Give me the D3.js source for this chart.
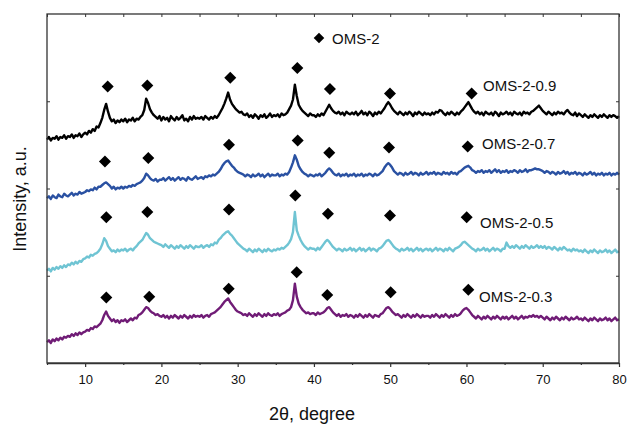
<!DOCTYPE html>
<html>
<head>
<meta charset="utf-8">
<script src="https://cdn.jsdelivr.net/npm/d3@7"></script>
<style>
  body { margin: 0; background: #fff; }
  text { font-family: "Liberation Sans", Arial, sans-serif; fill: #111; }
</style>
</head>
<body>
<div id="chart"></div>
<script>
// 2theta grid of the scans, 5..80 deg, 0.25 deg step
const twoTheta = d3.range(0, 301).map(i => 5 + i * 0.25);

// intensities (a.u., already stacked as drawn)
const oms09 = [
  256,259,255,258,257,260,256,259,258,261,257,260,259,262,258,261,260,263,259,262,
  264,262,266,264,268,266,271,270,275,281,290,297,288,281,277,279,275,278,276,279,
  277,280,276,279,278,281,277,280,279,282,284,290,303,298,291,287,284,282,280,283,
  278,282,279,281,277,283,280,278,282,279,281,284,278,280,277,282,279,283,280,281,
  280,282,279,283,281,279,282,280,283,281,284,288,292,297,303,310,302,297,294,291,
  289,287,288,285,284,286,282,284,281,285,283,280,284,282,285,281,283,286,282,284,
  283,285,282,286,284,285,287,291,295,302,319,306,296,292,289,287,285,283,286,284,
  284,282,285,283,286,284,288,292,296,292,289,287,286,288,285,287,284,288,286,285,
  287,285,288,284,286,289,285,287,284,288,286,283,287,285,288,286,289,292,296,299,
  296,292,289,287,285,288,286,284,287,285,288,286,283,287,285,288,286,284,287,285,
  286,284,287,285,288,287,290,289,286,284,287,285,288,286,284,287,285,288,290,293,
  296,299,295,291,288,286,288,285,287,284,288,286,285,287,284,288,286,283,287,285,
  286,288,285,287,284,288,286,285,287,284,288,286,287,285,288,289,291,293,295,292,
  289,287,285,288,286,284,287,285,288,286,287,285,288,290,287,285,284,287,283,286,
  284,282,285,283,281,284,282,285,283,281,284,282,285,283,281,284,282,284,283,281,
  283
];

const oms07 = [
  189,191,188,192,190,189,193,191,190,194,192,191,193,195,192,194,193,196,194,195,
  196,198,197,199,198,201,199,202,202,204,206,207,205,203,200,202,199,201,200,202,
  200,202,201,203,202,204,203,205,206,207,209,212,217,215,212,210,209,211,208,210,
  210,212,209,211,213,210,212,209,211,213,210,212,211,209,213,211,210,212,214,211,
  212,213,211,214,213,215,214,216,215,217,219,222,226,229,231,232,229,226,224,221,
  219,218,217,216,214,216,215,213,216,214,215,217,214,216,213,215,217,214,216,215,
  215,217,214,216,215,217,216,219,224,230,238,233,226,222,219,217,216,214,216,215,
  214,216,215,217,214,216,218,221,223,221,218,216,215,217,214,216,215,217,214,216,
  215,217,214,216,215,217,214,216,215,217,216,214,217,215,216,218,220,224,227,229,
  227,224,220,218,216,218,217,215,218,216,217,219,216,218,217,215,218,216,217,219,
  216,218,217,219,216,218,217,216,219,217,218,216,219,217,218,216,219,220,222,224,
  225,226,224,221,220,218,220,219,221,218,220,219,221,218,220,222,219,221,218,220,
  219,221,218,220,219,221,220,218,221,219,220,222,219,221,221,222,223,222,222,221,
  220,218,220,219,217,219,218,216,219,217,218,220,217,219,216,218,217,219,216,218,
  217,215,218,216,217,219,216,218,215,217,216,218,215,217,216,218,215,217,216,218,
  216
];

const oms05 = [
  106,108,105,109,107,110,108,111,109,112,110,113,112,115,113,116,114,117,116,119,
  120,122,121,124,123,125,126,128,131,136,143,140,134,131,128,129,127,130,128,130,
  129,131,128,130,131,129,132,134,137,139,141,145,149,147,143,141,139,138,137,136,
  135,133,136,134,132,135,133,131,134,132,135,133,131,134,132,135,133,131,134,133,
  133,135,132,134,135,133,136,135,138,137,141,143,146,148,150,151,148,146,143,140,
  137,135,133,131,130,128,131,129,127,130,128,131,129,127,130,128,131,129,128,130,
  129,131,130,132,131,133,135,138,142,150,173,152,146,141,137,134,132,130,132,131,
  131,129,132,130,133,136,139,141,139,136,133,131,129,131,130,128,131,129,130,132,
  129,131,128,130,132,129,131,128,130,132,129,131,130,128,131,132,134,137,140,141,
  139,136,133,131,130,128,131,129,130,132,129,131,128,130,132,129,131,128,130,131,
  129,131,128,130,132,129,131,130,128,131,129,132,130,128,131,132,133,135,138,139,
  137,135,133,131,130,128,131,129,130,132,129,131,128,130,132,129,131,130,128,131,
  131,138,134,132,134,132,135,133,131,134,132,135,133,131,134,132,133,135,132,134,
  132,134,131,133,132,130,133,131,129,132,130,133,131,129,130,128,131,129,130,128,
  129,127,130,128,126,129,127,130,128,126,129,127,128,130,127,129,126,128,130,127,
  128
];

const oms03 = [
  24,26,23,27,25,28,26,29,27,30,29,31,30,33,31,34,32,35,33,35,
  36,38,37,40,39,42,41,43,45,49,55,59,54,51,48,50,47,49,46,49,
  48,50,47,49,51,49,52,51,55,56,58,61,64,63,60,58,57,55,56,54,
  53,55,52,54,51,54,52,55,53,51,54,52,55,53,51,54,52,55,53,54,
  53,55,52,54,55,53,56,57,58,60,62,64,67,70,72,74,70,67,64,61,
  59,58,57,55,56,54,57,55,53,56,54,57,55,53,56,54,57,55,54,56,
  55,57,54,56,57,58,60,61,64,72,91,76,68,64,61,59,57,58,56,57,
  57,55,58,56,57,58,60,63,64,61,58,56,54,56,53,55,54,56,53,55,
  54,52,55,53,56,54,52,55,53,56,54,52,55,54,53,56,57,60,63,64,
  62,59,57,55,56,54,52,55,53,56,54,52,55,53,56,54,52,55,53,54,
  54,52,55,53,56,54,52,55,53,56,54,52,55,53,56,54,55,57,60,62,
  63,61,58,55,53,51,54,52,50,53,51,54,52,50,53,51,54,52,50,53,
  51,53,50,52,54,51,53,50,52,54,51,53,52,54,53,55,53,54,52,54,
  52,50,53,51,49,52,50,53,51,49,52,50,53,51,49,52,50,51,53,50,
  51,49,52,50,48,51,49,52,50,48,51,49,50,52,49,51,48,50,52,49,
  50
];

// OMS-2 reflections marked above each scan: [2theta, a.u.]
const peaks09 = [[12.96,317],[18.15,318],[29.03,327],[37.82,338],[42.1,314],[49.97,309],[60.68,309]];
const peaks07 = [[12.6,231],[18.28,235],[28.86,250],[37.87,255],[42.01,241],[49.84,247],[60.16,248]];
const peaks05 = [[12.78,167],[18.15,173],[28.86,176],[37.56,192],[41.84,171],[49.97,169],[60.03,167]];
const peaks03 = [[12.78,75],[18.41,76],[28.82,85],[37.74,104],[41.75,78],[50.06,81],[60.24,84]];

const seriesNames = ["OMS-2-0.9", "OMS-2-0.7", "OMS-2-0.5", "OMS-2-0.3"];
const seriesColors = ["#000000", "#2a51a2", "#6fc4d3", "#701c76"];
const xTicks = [10, 20, 30, 40, 50, 60, 70, 80];
const xMinor = [5, 15, 25, 35, 45, 55, 65, 75];
const yTicks = [100, 200, 300];

const series = [oms09, oms07, oms05, oms03].map((vals, i) => ({
    name: seriesNames[i],
    color: seriesColors[i],
    points: vals.map((v, j) => [twoTheta[j], v]).filter(d => d[0] !== undefined),
    peaks: [peaks09, peaks07, peaks05, peaks03][i]
}));

const width = 628, height = 427;
const margin = { top: 14, right: 9, bottom: 64, left: 47 };

const svg = d3.select("#chart").append("svg")
              .attr("width", width)
              .attr("height", height);

const x = d3.scaleLinear()
            .domain([5, 80])
            .range([margin.left, width - margin.right]);

const y = d3.scaleLinear()
            .domain([0, 400])
            .range([height - margin.bottom, margin.top]);

const line = d3.line()
               .x(d => x(d[0]))
               .y(d => y(d[1]));

// scans
svg.selectAll("path.scan")
   .data(series)
   .enter().append("path")
   .attr("class", "scan")
   .attr("d", d => line(d.points))
   .attr("fill", "none")
   .attr("stroke", d => d.color)
   .attr("stroke-width", 2.4)
   .attr("stroke-linejoin", "round");

// diamonds
const diamond = d3.symbol().type(d3.symbolSquare).size(72);

svg.selectAll("g.peaks")
   .data(series)
   .enter().append("g")
   .attr("class", "peaks")
   .selectAll("path")
   .data(d => d.peaks)
   .enter().append("path")
   .attr("d", diamond)
   .attr("transform", d => `translate(${x(d[0])},${y(d[1])}) rotate(45)`)
   .attr("fill", "#000");

// frame
svg.append("rect")
   .attr("x", margin.left)
   .attr("y", margin.top)
   .attr("width", width - margin.left - margin.right)
   .attr("height", height - margin.top - margin.bottom)
   .attr("fill", "none")
   .attr("stroke", "#333")
   .attr("stroke-width", 1.3);

// bottom axis
const xAxis = svg.append("g")
                 .attr("transform", `translate(0,${height - margin.bottom})`)
                 .call(d3.axisBottom(x).tickValues(xTicks).tickSize(4).tickSizeOuter(0).tickPadding(8));

xAxis.select(".domain").attr("stroke", "#333").attr("stroke-width", 1.3);
xAxis.selectAll(".tick line").attr("stroke", "#333").attr("stroke-width", 1.2);
xAxis.selectAll("text")
     .style("font-size", "13px")
     .style("font-family", "Liberation Sans, Arial, sans-serif")
     .attr("fill", "#111");

svg.append("g")
   .attr("transform", `translate(0,${height - margin.bottom})`)
   .call(d3.axisBottom(x).tickValues(xMinor).tickSize(2).tickSizeOuter(0).tickFormat(""))
   .call(g => g.select(".domain").remove())
   .selectAll(".tick line").attr("stroke", "#333").attr("stroke-width", 1.2);

// top ticks, inward
svg.append("g")
   .attr("transform", `translate(0,${margin.top})`)
   .call(d3.axisTop(x).tickValues(xMinor.concat(xTicks)).tickSize(-3).tickSizeOuter(0).tickFormat(""))
   .call(g => g.select(".domain").remove())
   .selectAll(".tick line").attr("stroke", "#333");

// left / right ticks, no labels
svg.append("g")
   .attr("transform", `translate(${margin.left},0)`)
   .call(d3.axisLeft(y).tickValues(yTicks).tickSize(-3).tickSizeOuter(0).tickFormat(""))
   .call(g => g.select(".domain").remove())
   .selectAll(".tick line").attr("stroke", "#333");

svg.append("g")
   .attr("transform", `translate(${width - margin.right},0)`)
   .call(d3.axisRight(y).tickValues(yTicks).tickSize(-3).tickSizeOuter(0).tickFormat(""))
   .call(g => g.select(".domain").remove())
   .selectAll(".tick line").attr("stroke", "#333");

// axis titles
svg.append("text")
   .attr("x", 312)
   .attr("y", 420)
   .attr("text-anchor", "middle")
   .style("font-size", "18px")
   .text("2θ, degree");

svg.append("text")
   .attr("transform", "translate(26,199) rotate(-90)")
   .attr("text-anchor", "middle")
   .style("font-size", "18px")
   .text("Intensity, a.u.");

// series labels
const labelPos = [[483, 91], [482, 149], [480, 228], [479, 302]];

svg.selectAll("text.series-label")
   .data(series)
   .enter().append("text")
   .attr("class", "series-label")
   .attr("x", (d, i) => labelPos[i][0])
   .attr("y", (d, i) => labelPos[i][1])
   .style("font-size", "15px")
   .text(d => d.name);

// legend
const legend = svg.append("g")
                  .attr("transform", "translate(319,38)");

legend.append("path")
      .attr("d", d3.symbol().type(d3.symbolSquare).size(56))
      .attr("transform", "rotate(45)")
      .attr("fill", "#000");

legend.append("text")
      .attr("x", 13)
      .attr("y", 5.5)
      .style("font-size", "15px")
      .text("OMS-2");
</script>
</body>
</html>
